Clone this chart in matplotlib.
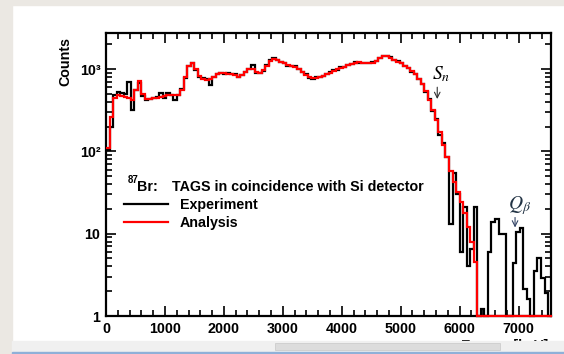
import numpy as np
import matplotlib
matplotlib.use("Agg")
import matplotlib.pyplot as plt
from matplotlib.patches import Rectangle
from matplotlib.ticker import LogLocator, MultipleLocator, NullFormatter

plt.rcParams['font.family'] = ['Liberation Sans', 'DejaVu Sans']
plt.rcParams['mathtext.fontset'] = 'stix'

# histogram binning (keV)
bin_width = 60
e_max = 7560

# Analysis (red), one row per 600 keV
analysis = [
    110, 260, 440, 480, 470, 460, 440, 420, 560, 710,
    500, 430, 430, 440, 450, 460, 470, 480, 490, 490,
    480, 560, 800, 1100, 1180, 1000, 820, 760, 740, 760,
    800, 860, 890, 890, 880, 870, 850, 810, 840, 920,
    1000, 1000, 920, 900, 960, 1100, 1250, 1330, 1300, 1220,
    1170, 1110, 1080, 1060, 1000, 930, 850, 790, 770, 780,
    800, 830, 870, 900, 950, 990, 1030, 1070, 1110, 1160,
    1200, 1210, 1200, 1190, 1180, 1200, 1260, 1350, 1420, 1440,
    1380, 1300, 1230, 1170, 1100, 1020, 940, 860, 760, 650,
    540, 420, 320, 240, 170, 120, 85, 58, 42, 32,
    24, 18, 12, 8, 4.5, 1, 1, 1, 1, 1,
    1, 1, 1, 1, 1, 1, 1, 1, 1, 1,
    1, 1, 1, 1, 1, 1,
]

# Experiment (black)
experiment = [
    105, 200, 480, 520, 510, 500, 700, 320, 560, 680,
    470, 420, 430, 440, 460, 510, 450, 510, 480, 420,
    480, 570, 780, 1100, 1200, 980, 800, 780, 750, 640,
    810, 880, 900, 880, 900, 860, 870, 790, 840, 930,
    1000, 1110, 900, 900, 940, 1120, 1270, 1360, 1280, 1230,
    1180, 1100, 1090, 1080, 990, 930, 860, 780, 760, 790,
    810, 820, 880, 910, 960, 980, 1050, 1060, 1120, 1150,
    1230, 1200, 1190, 1200, 1170, 1210, 1250, 1370, 1450, 1430,
    1400, 1290, 1240, 1190, 1090, 1030, 920, 870, 750, 660,
    530, 430, 310, 250, 160, 125, 85, 13, 55, 30,
    6, 21, 4, 6.5, 21, 1, 1.2, 1, 6, 14,
    15, 10, 10, 1, 1, 4.4, 10.5, 11.7, 2.1, 1.6,
    1, 3.5, 5.1, 2.9, 1.9, 1,
]

x_ticks = [0, 1000, 2000, 3000, 4000, 5000, 6000, 7000]
y_ticks = [1, 10, 100, 1000]
y_tick_labels = ['1', '10', '10²', '10³']
sn_energy = 5620
qb_energy = 6940

W, H = 564, 354
FS = 10.3


def fx(x):
    return x / W


def fy(y):
    return 1 - y / H


fig = plt.figure(figsize=(W / 100, H / 100), dpi=100)
ax = fig.add_axes([fx(106), fy(316), fx(551) - fx(106), fy(33) - fy(316)])

edges = np.arange(0, e_max + 1, bin_width)
h_exp = ax.stairs(experiment, edges, color='black', lw=1.6, baseline=None,
                  label='Experiment', zorder=3, clip_on=False)
h_ana = ax.stairs(analysis, edges, color='#ff0000', lw=1.6, baseline=None,
                  label='Analysis', zorder=4, clip_on=False)

ax.set_yscale('log')
ax.set_xlim(0, 7550)
ax.set_ylim(1, 2740)

ax.set_xticks(x_ticks)
ax.set_xticklabels([str(t) for t in x_ticks], fontweight='bold', fontsize=FS)
ax.xaxis.set_minor_locator(MultipleLocator(200))
ax.set_yticks(y_ticks)
ax.set_yticklabels(y_tick_labels, fontweight='bold', fontsize=FS)
ax.yaxis.set_minor_locator(LogLocator(base=10, subs=np.arange(2, 10)))
ax.yaxis.set_minor_formatter(NullFormatter())
ax.tick_params(which='both', direction='in', top=True, right=True, width=1.2)
ax.tick_params(which='major', length=7, pad=4)
ax.tick_params(which='minor', length=4)
for s in ax.spines.values():
    s.set_linewidth(1.6)
    s.set_zorder(2)

fig.text(fx(65), fy(61), 'Counts', rotation=90, ha='center', va='center',
         fontweight='bold', fontsize=FS)

# legend
leg = ax.legend(handles=[h_exp, h_ana], loc='upper left',
                bbox_to_anchor=(fx(118), fy(192)), bbox_transform=fig.transFigure,
                prop={'weight': 'bold', 'size': FS}, handlelength=3.1,
                handletextpad=0.8, labelspacing=0.3, borderaxespad=0,
                frameon=False)
fig.text(fx(128), fy(180), '87', fontsize=7, fontweight='bold', va='center')
fig.text(fx(137), fy(187), 'Br:', fontsize=FS, fontweight='bold', va='center')
fig.text(fx(172), fy(187), 'TAGS in coincidence with Si detector', fontsize=FS,
         fontweight='bold', va='center')

# S_n and Q_beta markers
ax.text(sn_energy + 70, 870, r'$S_n$', fontsize=14, ha='center', va='center')
ax.annotate('', xy=(sn_energy, 400), xytext=(sn_energy, 650),
            arrowprops=dict(arrowstyle='->', color='#333333', lw=0.8))
ax.text(qb_energy + 80, 22, r'$Q_\beta$', fontsize=14, ha='center', va='center',
        color='#223344')
ax.annotate('', xy=(qb_energy, 11), xytext=(qb_energy, 17),
            arrowprops=dict(arrowstyle='->', color='#334466', lw=0.8))

# x label, partly hidden by the window's scrollbar
fig.text(fx(548), fy(346), 'Energy [keV]', fontsize=FS, fontweight='bold',
         ha='right', va='center', zorder=1)

# window chrome around the slide
chrome = '#ebe8e3'
fig.add_artist(Rectangle((0, 0), fx(12), 1, transform=fig.transFigure,
                         color=chrome, zorder=10))
fig.add_artist(Rectangle((0, fy(5)), 1, 1 - fy(5), transform=fig.transFigure,
                         color=chrome, zorder=10))
fig.add_artist(Rectangle((fx(12), fy(352)), 1, fy(341) - fy(352),
                         transform=fig.transFigure, color='#f0f0f0', zorder=10))
fig.add_artist(Rectangle((fx(275), fy(350)), fx(500) - fx(275), fy(343) - fy(350),
                         transform=fig.transFigure, facecolor='#dcdcdc',
                         edgecolor='#c8c8c8', lw=0.5, zorder=11))
fig.add_artist(Rectangle((fx(12), 0), 1, fy(352), transform=fig.transFigure,
                         color='#8fb0d8', zorder=10))

fig.savefig('out.png', dpi=100)
